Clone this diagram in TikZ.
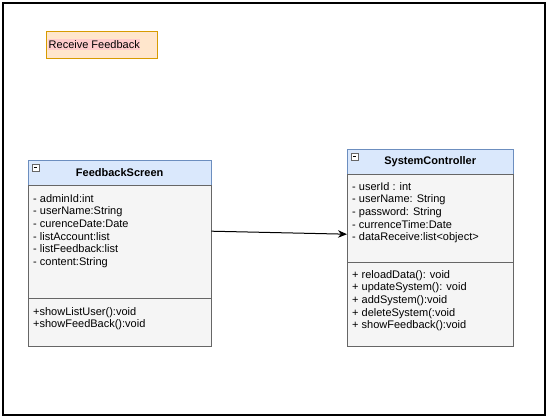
\documentclass[tikz,border=0pt]{standalone}
\usepackage{fontspec}
\setmainfont{Liberation Sans}
\usepackage{tikz}
\usetikzlibrary{arrows.meta, positioning}
\definecolor{testata}{HTML}{DAE8FC}
\definecolor{bordoblu}{HTML}{6C8EBF}
\definecolor{corpo}{HTML}{F5F5F5}
\definecolor{bordogrigio}{HTML}{666666}
\definecolor{nota}{HTML}{FFE6CC}
\definecolor{bordonota}{HTML}{D79B00}
\definecolor{evidenza}{HTML}{FFCCCC}
\newcommand{\testo}{\fontsize{11}{12.7}\selectfont}

\begin{document}
\begin{tikzpicture}[x = 1pt, y = -1pt, font = \testo,
    intestazione/.style = {draw = bordoblu, fill = testata, anchor = north west, inner sep = 0pt, minimum height = 25pt},
    sezione/.style = {draw = bordogrigio, fill = corpo, anchor = north west, inner sep = 0pt},
    righe/.style = {anchor = north west, align = left, inner sep = 0pt},
    icona/.style = {draw = bordogrigio, fill = white, minimum size = 6.5pt, inner sep = 0pt,
        path picture = {\draw[black, line width = 0.8pt] ([xshift = 1.5pt]path picture bounding box.west) -- ([xshift = -1.5pt]path picture bounding box.east);}},
    freccia/.style = {-{Stealth[length = 9pt, width = 7.5pt]}, line width = 1pt}]
    % Cornice
    \useasboundingbox (0,0) rectangle (550,420);
    \draw[line width = 1.2pt] (3,3) rectangle (545,415);
    % Nota
    \node[draw = bordonota, fill = nota, anchor = north west, minimum width = 111pt, minimum height = 27pt, inner sep = 0pt] (nota) at (46,31) {};
    \node[fill = evidenza, anchor = west, inner xsep = 0.5pt, inner ysep = 1pt] (notatesto) at (48,44.5) {Receive Feedback};
    % FeedbackScreen
    \node[intestazione, minimum width = 183pt] (fshead) at (28,160) {};
    \node[font = \testo\bfseries] (fstitolo) at (fshead.center) {FeedbackScreen};
    \node[icona] (fsicona) at (35.5,167.5) {};
    \node[sezione, minimum width = 183pt, minimum height = 113pt] (fsattr) at (28,185) {};
    \node[sezione, minimum width = 183pt, minimum height = 48pt] (fsmetodi) at (28,298) {};
    \node[righe] (fsattrtesto) at ([shift = {(5,9)}]fsattr.north west) {- adminId:int\\- userName:String\\- curenceDate:Date\\- listAccount:list\\- listFeedback:list\\- content:String};
    \node[righe] (fsmetoditesto) at ([shift = {(5,9)}]fsmetodi.north west) {+showListUser():void\\+showFeedBack():void};
    % SystemController
    \node[intestazione, minimum width = 166pt] (schead) at (347,149) {};
    \node[font = \testo\bfseries] (sctitolo) at (schead.center) {SystemController};
    \node[icona] (scicona) at (354.5,156.5) {};
    \node[sezione, minimum width = 166pt, minimum height = 88pt] (scattr) at (347,174) {};
    \node[sezione, minimum width = 166pt, minimum height = 84pt] (scmetodi) at (347,262) {};
    \node[righe] (scattrtesto) at ([shift = {(5,8)}]scattr.north west) {- userId : int\\- userName: String\\- password: String\\- currenceTime:Date\\- dataReceive:list<object>};
    \node[righe] (scmetoditesto) at ([shift = {(5,8)}]scmetodi.north west) {+ reloadData(): void\\+ updateSystem(): void\\+ addSystem():void\\+ deleteSystem(:void\\+ showFeedback():void};
    % Freccia
    \draw[freccia] ([yshift = 10.5pt]fsattr.east) -- ([yshift = -16pt]scattr.west);
\end{tikzpicture}
\end{document}
